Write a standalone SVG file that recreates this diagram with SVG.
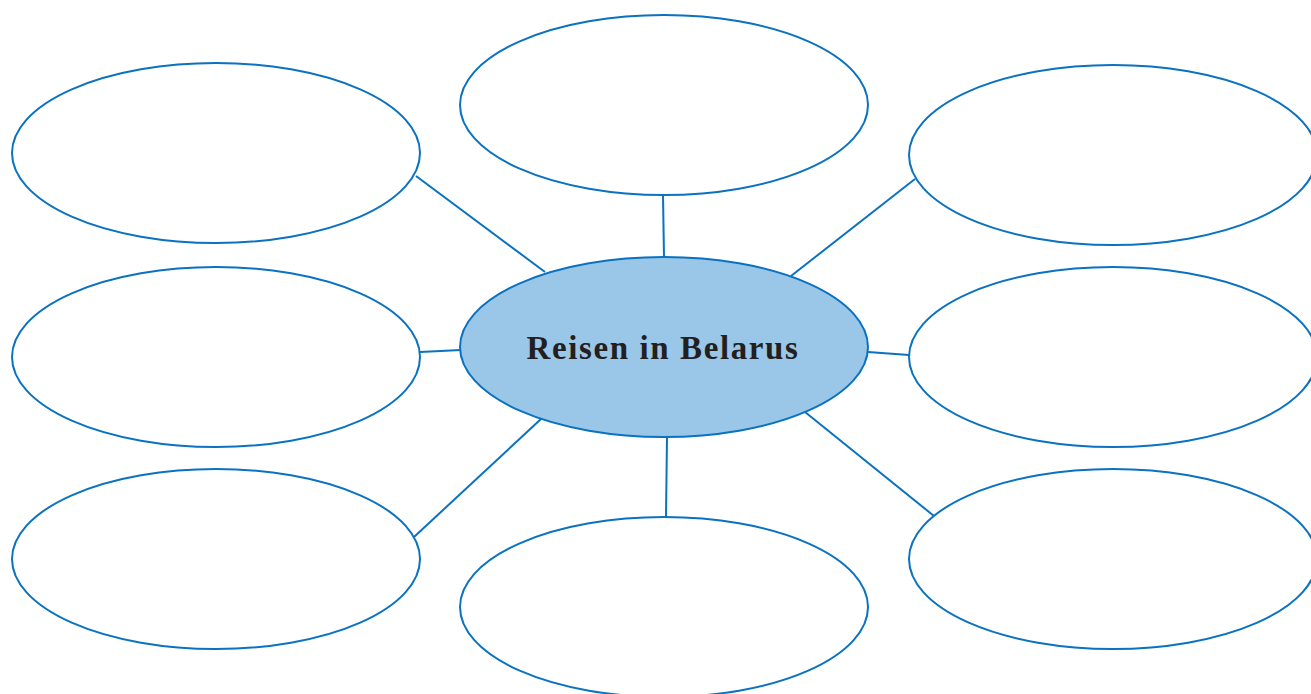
<svg xmlns="http://www.w3.org/2000/svg" width="1311" height="694" viewBox="0 0 1311 694">
<style>
.n{fill:#ffffff;stroke:#0a72c0;stroke-width:2}
.c{fill:#9ac6e7;stroke:#0a72c0;stroke-width:2}
.l{stroke:#0a72c0;stroke-width:2;fill:none}
.t{font-family:"Liberation Serif",serif;font-weight:bold;font-size:33px;fill:#231f20;letter-spacing:1.6px}
</style>
<rect width="1311" height="694" fill="#ffffff"/>
<g id="connectors">
<line class="l" x1="416" y1="176" x2="545" y2="272"/>
<line class="l" x1="663" y1="195" x2="664" y2="257"/>
<line class="l" x1="915" y1="179" x2="791" y2="276"/>
<line class="l" x1="420" y1="352" x2="461" y2="350"/>
<line class="l" x1="868" y1="352" x2="909" y2="355"/>
<line class="l" x1="414" y1="537" x2="541" y2="419"/>
<line class="l" x1="667" y1="437" x2="666" y2="517"/>
<line class="l" x1="805" y1="412" x2="934" y2="516"/>
</g>
<g id="n-top"><ellipse class="n" cx="664" cy="105" rx="204" ry="90"/></g>
<g id="n-topleft"><ellipse class="n" cx="216" cy="153" rx="204" ry="90"/></g>
<g id="n-topright"><ellipse class="n" cx="1113" cy="155" rx="204" ry="90"/></g>
<g id="n-left"><ellipse class="n" cx="216" cy="357" rx="204" ry="90"/></g>
<g id="n-right"><ellipse class="n" cx="1113" cy="357" rx="204" ry="90"/></g>
<g id="n-bottomleft"><ellipse class="n" cx="216" cy="559" rx="204" ry="90"/></g>
<g id="n-bottom"><ellipse class="n" cx="664" cy="607" rx="204" ry="90"/></g>
<g id="n-bottomright"><ellipse class="n" cx="1113" cy="559" rx="204" ry="90"/></g>
<g id="n-center">
<ellipse class="c" cx="664" cy="347" rx="204" ry="90"/>
<text class="t" x="663" y="359" text-anchor="middle">Reisen in Belarus</text>
</g>
</svg>
